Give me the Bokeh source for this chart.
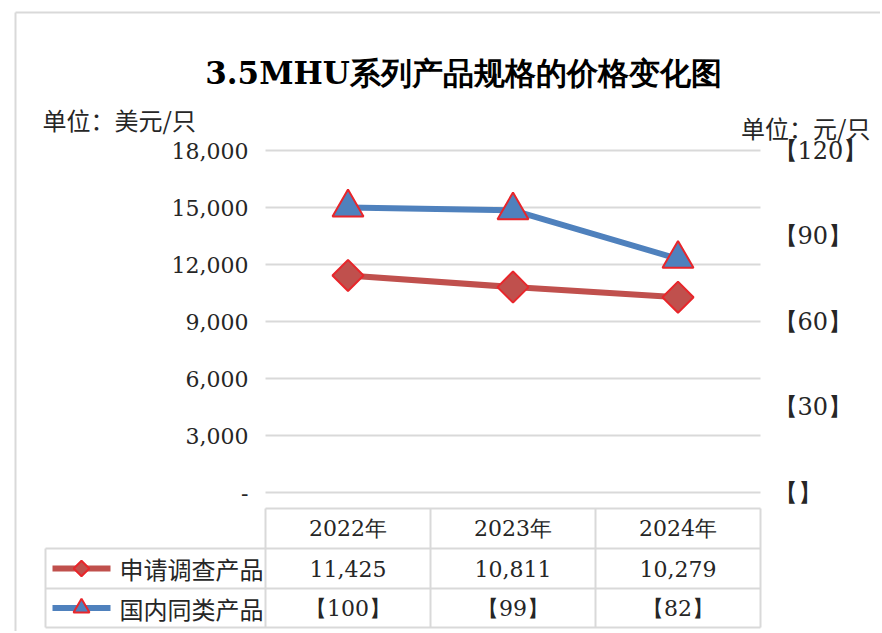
from bokeh.plotting import figure
from bokeh.models import Range1d
from bokeh.core.properties import value
from bokeh.embed import file_html
from bokeh.resources import INLINE

# ---------------- data ----------------
title_text = "3.5MHU系列产品规格的价格变化图"
left_unit = "单位：美元/只"
right_unit = "单位：元/只"
years = ["2022年", "2023年", "2024年"]
series_names = ["申请调查产品", "国内同类产品"]
applicant = [11425, 10811, 10279]     # 美元/只 (left scale)
domestic = [100, 99, 82]              # 元/只 (right scale, shown bracketed)
left_ticks = [0, 3000, 6000, 9000, 12000, 15000, 18000]
left_labels = ["-", "3,000", "6,000", "9,000", "12,000", "15,000", "18,000"]
right_ticks = [0, 30, 60, 90, 120]
right_labels = ["【】", "【30】", "【60】", "【90】", "【120】"]

# ---------------- styles ----------------
RED = "#C0504D"
RED_EDGE = "#E8262B"
BLUE = "#4F81BD"
GRID = "#D9D9D9"
TXT = "#262626"
SERIF = "DejaVu Serif"
CJK = "Noto Sans CJK SC"

W, H = 880, 631
n = len(years)
xs = list(range(n))
ratio = left_ticks[-1] / right_ticks[-1]

# layout helpers: page pixel -> data coordinate (for decorations only)
def X(px):
    return (px - 347.5) / 165.0

def Y(py):
    return (492 - py) * left_ticks[-1] / 342.0

p = figure(width=W, height=H, x_range=Range1d(X(0), X(W)), y_range=Range1d(Y(H), Y(0)),
           output_backend="svg", toolbar_location=None,
           x_axis_location=None, y_axis_location=None, min_border=0)
p.extra_y_ranges = {"yuan": Range1d(Y(H) / ratio, Y(0) / ratio)}
p.grid.visible = False
p.outline_line_color = None
p.background_fill_color = "white"
p.border_fill_color = "white"

# outer frame of the picture (left and top edges)
p.segment(x0=[X(15), X(15)], y0=[Y(12), Y(12)], x1=[X(W + 5), X(15)], y1=[Y(12), Y(H + 5)],
          line_color=GRID, line_width=2)

# title and units
p.text(x=[X(463)], y=[Y(72)], text=[title_text], text_font=value(SERIF),
       text_font_style="bold", text_font_size="31px", text_align="center",
       text_baseline="middle", text_color="black")
p.text(x=[X(42)], y=[Y(119)], text=[left_unit], text_font=value(CJK), text_font_size="24px",
       text_align="left", text_baseline="middle", text_color=TXT)
p.text(x=[X(870)], y=[Y(127)], text=[right_unit], text_font=value(CJK), text_font_size="24px",
       text_align="right", text_baseline="middle", text_color=TXT)

# grid lines at the left-scale ticks, across the category span
p.segment(x0=[-0.5] * len(left_ticks), y0=left_ticks, x1=[n - 0.5] * len(left_ticks),
          y1=left_ticks, line_color=GRID, line_width=2)

# left scale tick labels
p.text(x=[X(248)] * len(left_ticks), y=left_ticks, text=left_labels, text_font=value(SERIF),
       text_font_size="22px", text_align="right", text_baseline="middle", text_color=TXT)
# right scale tick labels
p.text(x=[X(773)] * len(right_ticks), y=right_ticks, text=right_labels, y_range_name="yuan",
       text_font=value(SERIF), text_font_size="24px", text_align="left",
       text_baseline="middle", text_color=TXT)

# series
p.line(xs, applicant, line_color=RED, line_width=6)
p.scatter(xs, applicant, marker="square", angle=0.785398, size=22,
          fill_color=RED, line_color=RED_EDGE, line_width=2)
p.line(xs, domestic, line_color=BLUE, line_width=6, y_range_name="yuan")
p.scatter(xs, domestic, marker="triangle", size=31, y_range_name="yuan",
          fill_color=BLUE, line_color=RED_EDGE, line_width=2)

# ---------------- data table ----------------
r_top, r1, r2, r_bot = Y(508), Y(548), Y(588), Y(627)
xl = X(45)
p.segment(x0=[-0.5, xl, xl, xl], y0=[r_top, r1, r2, r_bot],
          x1=[n - 0.5] * 4, y1=[r_top, r1, r2, r_bot], line_color=GRID, line_width=2)
vx = [xl] + [i - 0.5 for i in range(n + 1)]
p.segment(x0=vx, y0=[r_bot] * (n + 2), x1=vx, y1=[r1] + [r_top] * (n + 1),
          line_color=GRID, line_width=2)

c0, c1, c2 = (r_top + r1) / 2, (r1 + r2) / 2, (r2 + r_bot) / 2
p.text(x=xs, y=[c0] * n, text=years, text_font=value(SERIF), text_font_size="22px",
       text_align="center", text_baseline="middle", text_color=TXT)
p.text(x=xs, y=[c1] * n, text=[f"{v:,}" for v in applicant], text_font=value(SERIF),
       text_font_size="22px", text_align="center", text_baseline="middle", text_color=TXT)
p.text(x=xs, y=[c2] * n, text=[f"【{v}】" for v in domestic], text_font=value(SERIF),
       text_font_size="22px", text_align="center", text_baseline="middle", text_color=TXT)

# legend keys in the first column
kx0, kx1, kxc = X(52), X(110), X(81)
p.segment(x0=[kx0, kx0], y0=[c1, c2], x1=[kx1, kx1], y1=[c1, c2],
          line_color=[RED, BLUE], line_width=6)
p.scatter(x=[kxc], y=[c1], marker="square", angle=0.785398, size=11,
          fill_color=RED, line_color=RED_EDGE, line_width=2)
p.scatter(x=[kxc], y=[c2], marker="triangle", size=16,
          fill_color=BLUE, line_color=RED_EDGE, line_width=2)
p.text(x=[X(119)] * 2, y=[c1, c2], text=series_names, text_font=value(CJK),
       text_font_size="24px", text_align="left", text_baseline="middle", text_color=TXT)

open("out.html", "w").write(file_html(p, INLINE))
